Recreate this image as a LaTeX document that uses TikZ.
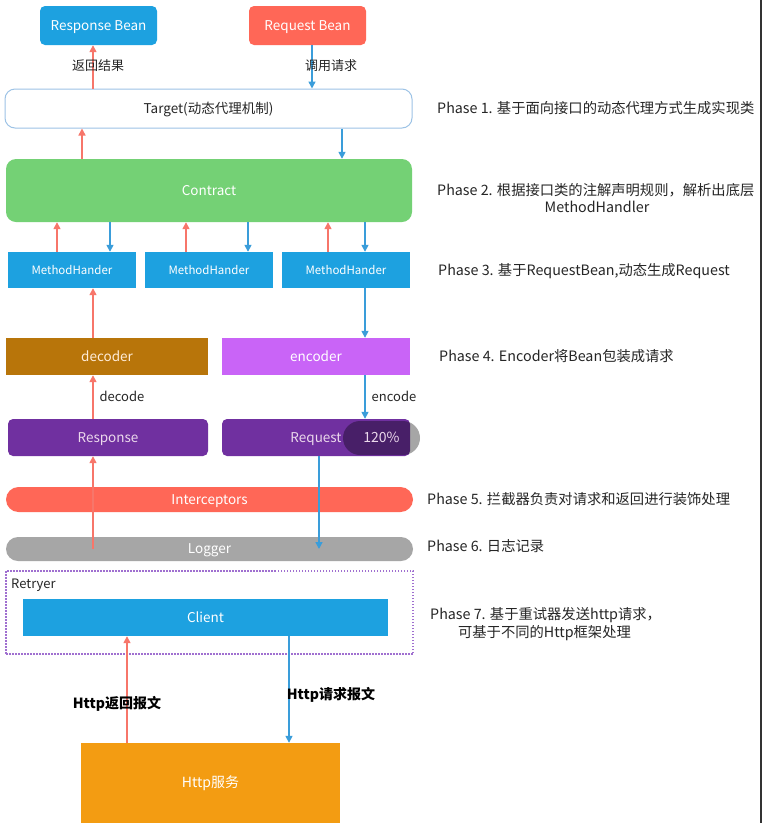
\documentclass[tikz,border=0pt]{standalone}
\usepackage{fontspec}
\setmainfont{Noto Sans CJK SC}
\usetikzlibrary{arrows.meta}
\definecolor{cblue}{HTML}{1DA1E0}
\definecolor{ccoral}{HTML}{FF6757}
\definecolor{cgreen}{HTML}{74D175}
\definecolor{cbrown}{HTML}{B8750A}
\definecolor{cviolet}{HTML}{C964F7}
\definecolor{cpurple}{HTML}{7030A0}
\definecolor{cgray}{HTML}{A6A6A6}
\definecolor{corange}{HTML}{F39C12}
\definecolor{cborder}{HTML}{9DC3E6}
\definecolor{cdot}{HTML}{A070D0}
\definecolor{ared}{HTML}{F7766A}
\definecolor{ablue}{HTML}{3A9DDA}
\definecolor{ctxt}{HTML}{262626}
\tikzset{
  box/.style={inner sep=0pt, text=white, font=\fontsize{13.5}{15}\selectfont, text height=9.5pt, text depth=0pt},
  redarr/.style={draw=ared, line width=1.5pt, -{Triangle[length=7pt,width=7pt]}},
  bluearr/.style={draw=ablue, line width=1.5pt, -{Triangle[length=7pt,width=7pt]}},
  lbl/.style={text=ctxt, font=\fontsize{13}{15}\selectfont, inner sep=0pt, text height=9.5pt, text depth=0pt},
  phase/.style={text=ctxt, font=\fontsize{14.3}{17}\selectfont, inner sep=0pt, anchor=west, text height=10pt, text depth=0pt},
  boldlbl/.style={text=black, font=\bfseries\fontsize{14}{16}\selectfont, inner sep=0pt, text height=10pt, text depth=0pt},
}
\begin{document}
\begin{tikzpicture}[x=1pt,y=-1pt]
\useasboundingbox[fill=white] (0,0) rectangle (763,823);
% edge line
\draw[draw=black!80, line width=2pt] (761,0) coordinate (e1) -- (761,823) coordinate (e2);

% boxes
\node[box, fill=cblue, rounded corners=5pt, minimum width=117pt, minimum height=39pt] (respbean) at (98.5,25.5) {Response Bean};
\node[box, fill=ccoral, rounded corners=5pt, minimum width=117pt, minimum height=39pt] (reqbean) at (307.5,25.5) {Request Bean};
\node[box, text=ctxt, fill=white, draw=cborder, line width=1pt, rounded corners=10pt, minimum width=407pt, minimum height=39pt] (target) at (208.5,108.5) {Target(动态代理机制)};
\node[box, fill=cgreen, rounded corners=10pt, minimum width=406pt, minimum height=63pt] (contract) at (209,190.5) {Contract};
\node[box, fill=cblue, minimum width=128pt, minimum height=36pt, font=\fontsize{11.5}{13}\selectfont, text height=8pt] (mh1) at (72,270) {MethodHander};
\node[box, fill=cblue, minimum width=128pt, minimum height=36pt, font=\fontsize{11.5}{13}\selectfont, text height=8pt] (mh2) at (209,270) {MethodHander};
\node[box, fill=cblue, minimum width=128pt, minimum height=36pt, font=\fontsize{11.5}{13}\selectfont, text height=8pt] (mh3) at (346,270) {MethodHander};
\node[box, fill=cbrown, text=white!85!orange, minimum width=202pt, minimum height=37pt] (decoder) at (107,356.5) {decoder};
\node[box, fill=cviolet, minimum width=188pt, minimum height=37pt] (encoder) at (316,356.5) {encoder};
\node[box, fill=cpurple, text=white!85!violet, rounded corners=5pt, minimum width=200pt, minimum height=37pt] (response) at (108,437.5) {Response};
\node[box, fill=cpurple, text=white!85!violet, rounded corners=5pt, minimum width=188pt, minimum height=37pt] (request) at (316,437.5) {Request\hspace{90pt}};
\node[box, fill=ccoral, rounded corners=12.5pt, minimum width=407pt, minimum height=25pt] (interc) at (209.5,499.5) {Interceptors};
\node[box, fill=cgray, rounded corners=12pt, minimum width=407pt, minimum height=24pt] (logger) at (209.5,549) {Logger};
\node[draw=cdot, line width=1.2pt, dash pattern=on 1.5pt off 1.5pt, minimum width=407pt, minimum height=83pt, inner sep=0pt] (retryer) at (209.5,612.5) {};
\node[lbl, anchor=west] (retlbl) at (11,584) {Retryer};
\node[box, fill=cblue, minimum width=365pt, minimum height=37pt] (client) at (205.5,617.5) {Client};
\node[box, fill=corange, minimum width=259pt, minimum height=80pt, font=\fontsize{14}{16}\selectfont] (http) at (210.5,783) {Http服务};

% zoom overlay
\node[box, fill=black, fill opacity=0.35, text opacity=1, text=white!85!violet, rounded corners=17pt, minimum width=77pt, minimum height=34pt, font=\fontsize{14}{16}\selectfont] (zoomind) at (381.5,438) {120\%};

% arrows
\draw[redarr] (target.north -| 93,0) -- (respbean.south -| 93,0);
\draw[bluearr] (reqbean.south -| 312,0) -- (target.north -| 312,0);
\draw[redarr] (contract.north -| 82,0) -- (target.south -| 82,0);
\draw[bluearr] (target.south -| 342,0) -- (contract.north -| 342,0);
\draw[redarr] (mh1.north -| 57,0) -- (contract.south -| 57,0);
\draw[bluearr] (contract.south -| 110,0) -- (mh1.north -| 110,0);
\draw[redarr] (mh2.north -| 186,0) -- (contract.south -| 186,0);
\draw[bluearr] (contract.south -| 248,0) -- (mh2.north -| 248,0);
\draw[redarr] (mh3.north -| 328,0) -- (contract.south -| 328,0);
\draw[bluearr] (contract.south -| 365,0) -- (mh3.north -| 365,0);
\draw[redarr] (decoder.north -| 93,0) -- (mh1.south -| 93,0);
\draw[bluearr] (mh3.south -| 365,0) -- (encoder.north -| 365,0);
\draw[redarr] (response.north -| 93,0) -- (decoder.south -| 93,0);
\draw[bluearr] (encoder.south -| 365,0) -- (request.north -| 365,0);
\draw[redarr] (logger.center -| 93,0) -- (response.south -| 93,0);
\draw[bluearr] (request.south -| 319,0) -- (logger.center -| 319,0);
\draw[redarr] (http.north -| 127,0) -- (client.south -| 127,0);
\draw[bluearr] (client.south -| 289,0) -- (http.north -| 289,0);

% labels
\node[lbl] (l1) at (98,66) {返回结果};
\node[lbl] (l2) at (331,66) {调用请求};
\node[lbl] (l3) at (122,397) {decode};
\node[lbl] (l4) at (394,397) {encode};
\node[boldlbl] (l5) at (117,703) {Http返回报文};
\node[boldlbl] (l6) at (331,694) {Http请求报文};

% phases
\node[phase] (p1) at (437,108) {Phase 1. 基于面向接口的动态代理方式生成实现类};
\node[phase] (p2) at (437,190) {Phase 2. 根据接口类的注解声明规则，解析出底层};
\node[phase, anchor=center] (p2b) at (597,207) {MethodHandler};
\node[phase] (p3) at (438,270) {Phase 3. 基于RequestBean,动态生成Request};
\node[phase] (p4) at (439,356) {Phase 4. Encoder将Bean包装成请求};
\node[phase] (p5) at (427,499) {Phase 5. 拦截器负责对请求和返回进行装饰处理};
\node[phase] (p6) at (427,546) {Phase 6. 日志记录};
\node[phase] (p7) at (430,614) {Phase 7. 基于重试器发送http请求，};
\node[phase, anchor=center] (p7b) at (544.5,632) {可基于不同的Http框架处理};
\end{tikzpicture}
\end{document}
